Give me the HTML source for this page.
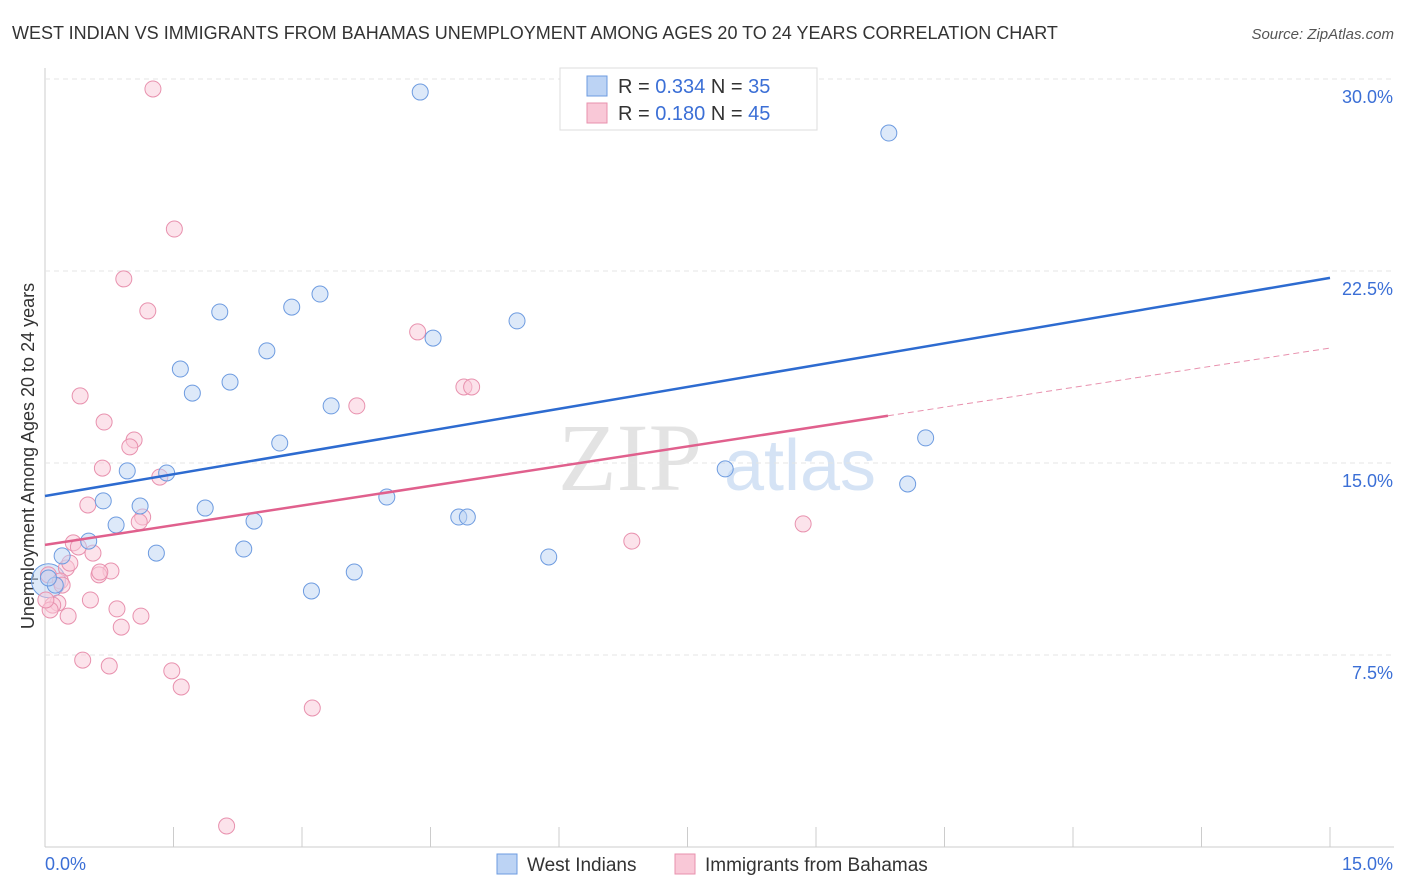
<!DOCTYPE html>
<html><head><meta charset="utf-8"><style>
body{margin:0;background:#fff;font-family:"Liberation Sans",sans-serif;}
svg{display:block}
</style></head><body>
<svg id="c" width="1406" height="892">
<text x="12" y="39" font-size="18" fill="#333">WEST INDIAN VS IMMIGRANTS FROM BAHAMAS UNEMPLOYMENT AMONG AGES 20 TO 24 YEARS CORRELATION CHART</text>
<text x="1394" y="39" font-size="15" fill="#555" font-style="italic" text-anchor="end">Source: ZipAtlas.com</text>
<text x="0" y="0" transform="translate(34,456) rotate(-90)" font-size="18" fill="#333" text-anchor="middle">Unemployment Among Ages 20 to 24 years</text>
<text x="630" y="490" font-size="96" fill="#ddd" font-family="Liberation Serif" text-anchor="middle" opacity="0.8">ZIP</text>
<text x="800" y="490" font-size="72" fill="#d5e3f5" text-anchor="middle">atlas</text>
<g id="grid"></g><g id="marks"></g>
<g>
<rect x="560" y="68" width="257" height="62" fill="#fff" stroke="#ddd"/>
<rect x="587" y="76" width="20" height="20" fill="#bcd3f4" stroke="#6d9be0"/>
<rect x="587" y="103" width="20" height="20" fill="#f9c8d7" stroke="#e891ae"/>
<text x="618" y="93" font-size="20" fill="#333">R = <tspan fill="#3b6fd6">0.334</tspan>   N = <tspan fill="#3b6fd6">35</tspan></text>
<text x="618" y="120" font-size="20" fill="#333">R = <tspan fill="#3b6fd6"> 0.180</tspan>   N = <tspan fill="#3b6fd6">45</tspan></text>
</g>
<g>
<rect x="497" y="854" width="20" height="20" fill="#bcd3f4" stroke="#6d9be0"/>
<text x="527" y="871" font-size="19" fill="#333">West Indians</text>
<rect x="675" y="854" width="20" height="20" fill="#f9c8d7" stroke="#e891ae"/>
<text x="705" y="871" font-size="19" fill="#333">Immigrants from Bahamas</text>
</g>
</svg>
<script>
const yTicks=[7.5,15,22.5,30];
const yTickLabels=["7.5%","15.0%","22.5%","30.0%"];
const xTickLabels=["0.0%","15.0%"];
const blueX=[4.38,9.85,3.21,2.88,2.04,5.51,4.53,2.59,1.58,2.16,1.72,3.34,10.28,2.74,0.96,1.42,7.94,10.07,0.68,1.11,1.87,3.99,0.83,2.44,4.83,4.93,0.51,0.20,1.30,2.32,5.88,3.61,3.11,0.12,0.04];
const blueY=[29.49,27.89,21.60,21.09,20.90,20.55,19.88,19.38,18.67,18.16,17.73,17.23,15.98,15.78,14.69,14.61,14.77,14.18,13.52,13.32,13.24,13.67,12.58,12.73,12.89,12.89,11.95,11.37,11.48,11.64,11.33,10.74,10.00,10.23,10.51];
const pinkX=[1.26,1.51,0.92,1.20,4.35,4.89,4.98,0.41,3.64,0.69,1.04,0.99,0.67,1.34,0.50,1.14,1.10,8.85,6.85,0.33,0.39,0.56,0.25,0.29,0.77,0.63,0.04,0.18,0.53,0.15,0.09,0.06,0.27,0.84,1.12,0.89,0.44,0.75,1.48,1.59,3.12,2.12,0.64,0.01,0.20];
const pinkY=[29.61,24.14,22.19,20.94,20.12,17.97,17.97,17.62,17.23,16.60,15.90,15.63,14.80,14.45,13.36,12.89,12.70,12.62,11.95,11.88,11.72,11.48,10.90,11.09,10.78,10.63,10.63,10.39,9.65,9.53,9.45,9.26,9.02,9.30,9.02,8.59,7.30,7.07,6.88,6.25,5.43,0.82,10.74,9.65,10.23];
const blueTrend=[13.71,22.23];
const pinkTrend=[11.80,19.49];
const pinkSolidEnd=9.84;
const NS="http://www.w3.org/2000/svg";
const X=v=>45+v/15*1285, Y=v=>847-v/7.5*192;
function mk(tag,at,parent){const e=document.createElementNS(NS,tag);for(const k in at)e.setAttribute(k,at[k]);document.getElementById(parent).appendChild(e);return e;}
let ax=mk('line',{x1:45,y1:68,x2:45,y2:847,stroke:'#ccc'},'grid');


let bx=mk('line',{x1:45,y1:847,x2:1394,y2:847,stroke:'#ccc'},'grid');


yTicks.forEach((t,i)=>{
 let g=mk('line',{x1:45,y1:Y(t),x2:1394,y2:Y(t),stroke:'#e4e4e4','stroke-dasharray':'5,4'},'grid');
 
 
 let l=mk('text',{x:1393,y:Y(t)+24,'font-size':18,fill:'#3b6fd6','text-anchor':'end'},'grid');l.textContent=yTickLabels[i];
 
 
});
for(let i=1;i<=10;i++){let t=mk('line',{x1:X(i*1.5),y1:827,x2:X(i*1.5),y2:847,stroke:'#ccc'},'grid');
 
 }
[[45,'start',0],[1393,'end',1]].forEach(([x,a,i])=>{let l=mk('text',{x:x,y:870,'font-size':18,fill:'#3b6fd6','text-anchor':a},'grid');l.textContent=xTickLabels[i];
 
 });
let big=mk('circle',{cx:X(0.04),cy:Y(10.4),r:17,fill:'rgba(188,211,244,0.5)',stroke:'#6d9be0','stroke-width':1},'marks');


pinkX.forEach((v,i)=>{let c=mk('circle',{cx:X(v),cy:Y(pinkY[i]),r:8,fill:'rgba(249,200,215,0.5)',stroke:'#e891ae','stroke-width':1},'marks');
 
 });
blueX.forEach((v,i)=>{let c=mk('circle',{cx:X(v),cy:Y(blueY[i]),r:8,fill:'rgba(188,211,244,0.5)',stroke:'#6d9be0','stroke-width':1},'marks');
 
 });
let bl=mk('line',{x1:X(0),y1:Y(blueTrend[0]),x2:X(15),y2:Y(blueTrend[1]),stroke:'#2d6bd0','stroke-width':2.5},'marks');


const pm=pinkTrend[0]+(pinkTrend[1]-pinkTrend[0])*pinkSolidEnd/15;
let pl=mk('line',{x1:X(0),y1:Y(pinkTrend[0]),x2:X(pinkSolidEnd),y2:Y(pm),stroke:'#e0608d','stroke-width':2.5},'marks');


let pd=mk('line',{x1:X(pinkSolidEnd),y1:Y(pm),x2:X(15),y2:Y(pinkTrend[1]),stroke:'#e891ae','stroke-width':1,'stroke-dasharray':'6,4'},'marks');


</script>
</body></html>
